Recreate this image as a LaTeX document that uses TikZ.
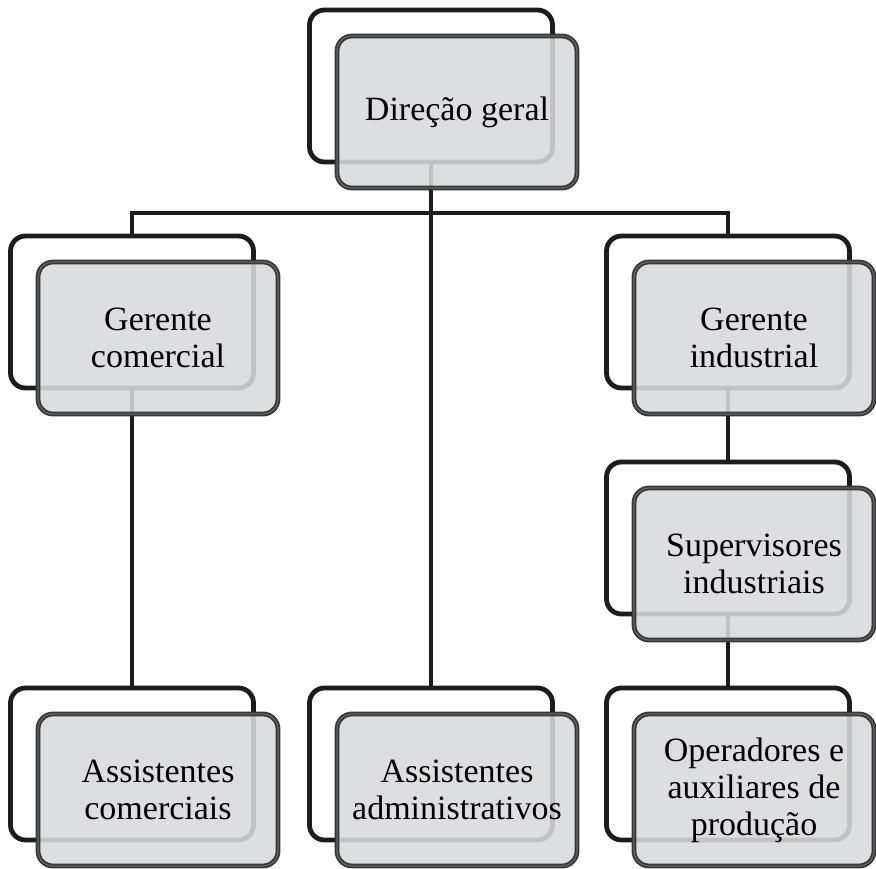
\documentclass[tikz,border=0pt]{standalone}
\usepackage{fontspec}
\setmainfont{Liberation Serif}
\definecolor{frontfill}{RGB}{216,217,220}
\definecolor{frontline}{RGB}{55,55,55}
\definecolor{frontmid}{RGB}{100,100,100}
\definecolor{backline}{RGB}{28,28,28}
\tikzset{
  backbox/.style={draw=backline, line width=4.8pt, rounded corners=15pt,
    minimum width=243pt, minimum height=152pt, inner sep=0pt, outer sep=0pt},
  frontbox/.style={draw=frontline, line width=4.8pt, rounded corners=15pt,
    fill=frontfill, fill opacity=0.88, text opacity=1,
    minimum width=240pt, minimum height=152pt, inner sep=0pt, outer sep=0pt,
    align=center, font=\fontsize{34}{37}\selectfont,
    postaction={draw=frontmid, line width=1.3pt, rounded corners=15pt}},
  link/.style={draw=backline, line width=4.8pt}
}
\begin{document}
\begin{tikzpicture}[x=1pt,y=-1pt]
\useasboundingbox (0,0) rectangle (876,868);
% back frames
\node[backbox] (dgB) at (431,86) {};
\node[backbox] (gcB) at (132,312) {};
\node[backbox] (giB) at (728,312) {};
\node[backbox] (svB) at (728,538) {};
\node[backbox] (acB) at (132,764) {};
\node[backbox] (aaB) at (431,764) {};
\node[backbox] (opB) at (728,764) {};
% connectors
\coordinate (bus) at (431,213);
\draw[link] (dgB.south) -- (aaB.north);
\draw[link] (gcB.north) |- (bus) -| (giB.north);
\draw[link] (gcB.south) -- (acB.north);
\draw[link] (giB.south) -- (svB.north);
\draw[link] (svB.south) -- (opB.north);
% front boxes
\node[frontbox] (dg) at (457,112) {Direção geral};
\node[frontbox] (gc) at (158,338) {Gerente\\comercial};
\node[frontbox] (gi) at (754,338) {Gerente\\industrial};
\node[frontbox] (sv) at (754,564) {Supervisores\\industriais};
\node[frontbox] (ac) at (158,790) {Assistentes\\comerciais};
\node[frontbox] (aa) at (457,790) {Assistentes\\administrativos};
\node[frontbox] (op) at (754,790) {Operadores e\\auxiliares de\\produção};
\end{tikzpicture}
\end{document}
